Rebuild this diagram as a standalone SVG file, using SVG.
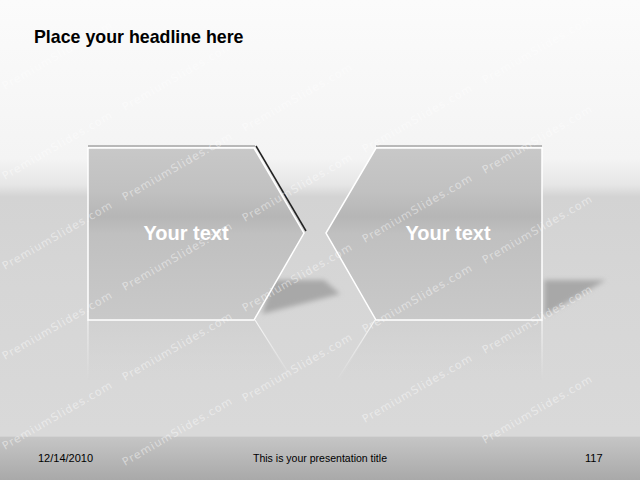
<svg xmlns="http://www.w3.org/2000/svg" width="640" height="480" viewBox="0 0 640 480">
<defs>
<linearGradient id="bg" x1="0" y1="0" x2="0" y2="480" gradientUnits="userSpaceOnUse">
<stop offset="0" stop-color="#fbfbfb"/>
<stop offset="0.33" stop-color="#f4f4f4"/>
<stop offset="0.385" stop-color="#e6e6e6"/>
<stop offset="0.41" stop-color="#d3d3d3"/>
<stop offset="0.6" stop-color="#d6d6d6"/>
<stop offset="0.9" stop-color="#d9d9d9"/>
</linearGradient>
<linearGradient id="foot" x1="0" y1="0" x2="0" y2="1">
<stop offset="0" stop-color="#c6c6c6"/>
<stop offset="1" stop-color="#a9a9a9"/>
</linearGradient>
<linearGradient id="shape" x1="0" y1="148" x2="0" y2="320" gradientUnits="userSpaceOnUse">
<stop offset="0" stop-color="#c8c8c8"/>
<stop offset="0.25" stop-color="#c1c1c1"/>
<stop offset="0.4" stop-color="#b6b6b6"/>
<stop offset="0.5" stop-color="#c0c0c0"/>
<stop offset="1" stop-color="#c9c9c9"/>
</linearGradient>
<linearGradient id="refl" x1="0" y1="320" x2="0" y2="380" gradientUnits="userSpaceOnUse">
<stop offset="0" stop-color="#ffffff" stop-opacity="0.8"/>
<stop offset="1" stop-color="#ffffff" stop-opacity="0"/>
</linearGradient>
<linearGradient id="reflFill" x1="0" y1="320" x2="0" y2="400" gradientUnits="userSpaceOnUse">
<stop offset="0" stop-color="#cfcfcf" stop-opacity="0.8"/>
<stop offset="1" stop-color="#d6d6d6" stop-opacity="0"/>
</linearGradient>
<filter id="blur" x="-20%" y="-20%" width="140%" height="140%"><feGaussianBlur stdDeviation="2.5"/></filter>
<style>
.lbl{font-family:"Liberation Sans",Arial,sans-serif;font-weight:bold;font-size:20px;fill:#ffffff;text-anchor:middle}
.ft{font-family:"Liberation Sans",Arial,sans-serif;font-size:11px;fill:#000000}
.wm{font-family:"DejaVu Sans",sans-serif;font-size:11px;fill:#ffffff;fill-opacity:0.45;letter-spacing:1px}
</style>
</defs>
<rect x="0" y="0" width="640" height="480" fill="url(#bg)"/>
<rect x="0" y="436" width="640" height="44" fill="url(#foot)"/>
<line x1="0" y1="436.5" x2="640" y2="436.5" stroke="#d2d2d2" stroke-width="1"/>

<g id="shadows" filter="url(#blur)">
<polygon points="272,280 324,280 340,294 262,314" fill="#a8a8a8"/>
<polygon points="544,280 606,280 544,316" fill="#a8a8a8"/>
</g>

<g id="reflections">
<polygon points="88,320 255,320 290,380 88,380" fill="url(#reflFill)"/>
<polygon points="375,320 542,320 542,380 340,380" fill="url(#reflFill)"/>
<polyline points="255,320 293,380" fill="none" stroke="url(#refl)" stroke-width="1.2"/>
<polyline points="375,320 337,380" fill="none" stroke="url(#refl)" stroke-width="1.2"/>
<line x1="542" y1="320" x2="542" y2="380" stroke="url(#refl)" stroke-width="1.2"/>
<line x1="88" y1="320" x2="88" y2="380" stroke="url(#refl)" stroke-width="1"/>
</g>

<g id="node-left">
<line x1="88" y1="146" x2="255" y2="146" stroke="#a4a4a4" stroke-width="1.5"/>
<line x1="256" y1="146" x2="306" y2="231" stroke="#222222" stroke-width="1.5"/>
<polygon points="88,148 254,148 304,233 254,320 88,320" fill="url(#shape)" stroke="#ffffff" stroke-width="1.5"/>
<text class="lbl" x="186" y="240">Your text</text>
</g>

<g id="node-right">
<line x1="376" y1="146" x2="542" y2="146" stroke="#a4a4a4" stroke-width="1.5"/>
<polygon points="376,148 542,148 542,320 376,320 326,233" fill="url(#shape)" stroke="#ffffff" stroke-width="1.5"/>
<text class="lbl" x="448" y="240">Your text</text>
</g>

<g id="connectors"></g>

<g id="watermark">
<text class="wm" transform="translate(5,90) rotate(-30)">PremiumSlides.com</text>
<text class="wm" transform="translate(5,180) rotate(-30)">PremiumSlides.com</text>
<text class="wm" transform="translate(5,270) rotate(-30)">PremiumSlides.com</text>
<text class="wm" transform="translate(5,360) rotate(-30)">PremiumSlides.com</text>
<text class="wm" transform="translate(5,450) rotate(-30)">PremiumSlides.com</text>
<text class="wm" transform="translate(125,111) rotate(-30)">PremiumSlides.com</text>
<text class="wm" transform="translate(125,201) rotate(-30)">PremiumSlides.com</text>
<text class="wm" transform="translate(125,291) rotate(-30)">PremiumSlides.com</text>
<text class="wm" transform="translate(125,381) rotate(-30)">PremiumSlides.com</text>
<text class="wm" transform="translate(125,466) rotate(-30)">PremiumSlides.com</text>
<text class="wm" transform="translate(245,132) rotate(-30)">PremiumSlides.com</text>
<text class="wm" transform="translate(245,222) rotate(-30)">PremiumSlides.com</text>
<text class="wm" transform="translate(245,312) rotate(-30)">PremiumSlides.com</text>
<text class="wm" transform="translate(245,402) rotate(-30)">PremiumSlides.com</text>
<text class="wm" transform="translate(365,153) rotate(-30)">PremiumSlides.com</text>
<text class="wm" transform="translate(365,243) rotate(-30)">PremiumSlides.com</text>
<text class="wm" transform="translate(365,333) rotate(-30)">PremiumSlides.com</text>
<text class="wm" transform="translate(365,423) rotate(-30)">PremiumSlides.com</text>
<text class="wm" transform="translate(485,84) rotate(-30)">PremiumSlides.com</text>
<text class="wm" transform="translate(485,174) rotate(-30)">PremiumSlides.com</text>
<text class="wm" transform="translate(485,264) rotate(-30)">PremiumSlides.com</text>
<text class="wm" transform="translate(485,354) rotate(-30)">PremiumSlides.com</text>
<text class="wm" transform="translate(485,444) rotate(-30)">PremiumSlides.com</text>
</g>

<text x="34" y="43" font-family="'Liberation Sans',Arial,sans-serif" font-weight="bold" font-size="17.8" fill="#000000">Place your headline here</text>

<g id="footer">
<text class="ft" x="38" y="462">12/14/2010</text>
<text class="ft" x="320" y="462" text-anchor="middle" textLength="134" lengthAdjust="spacingAndGlyphs">This is your presentation title</text>
<text class="ft" x="585" y="462">117</text>
</g>
</svg>
